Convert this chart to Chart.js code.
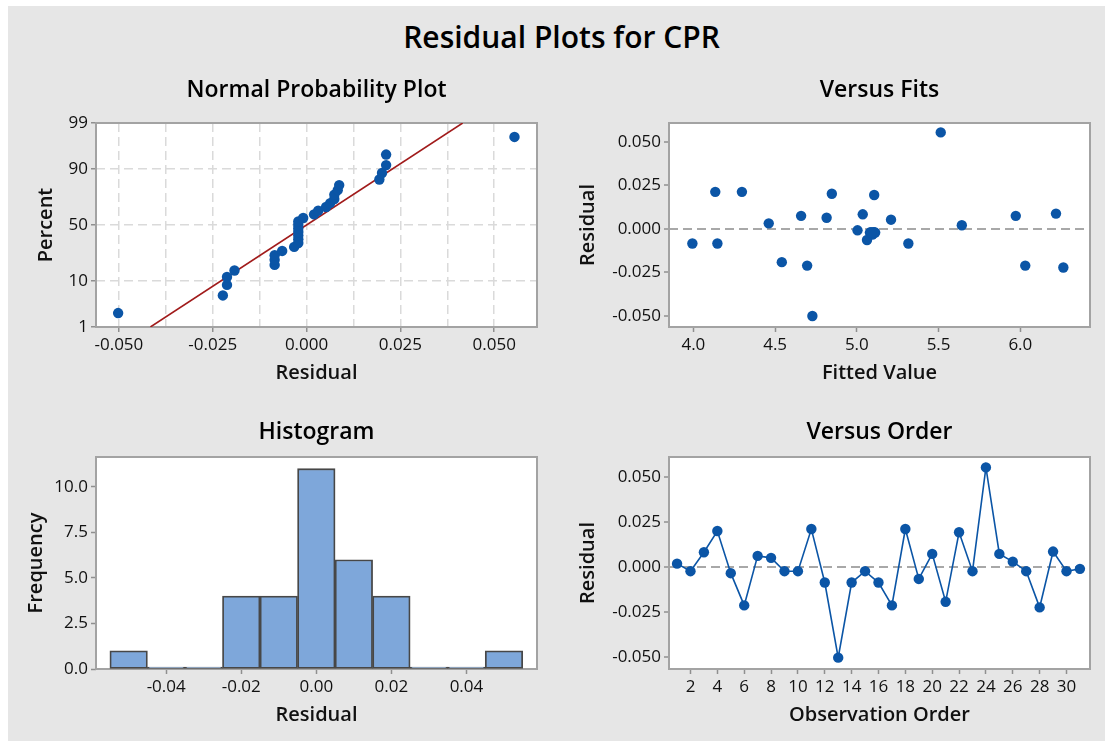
<!DOCTYPE html>
<html>
<head>
<meta charset="utf-8">
<title>Residual Plots for CPR</title>
<script src="https://cdn.jsdelivr.net/npm/chart.js"></script>
<style>
    html, body { margin: 0; padding: 0; background: #fff; overflow: hidden; }
    .sheet { position: absolute; left: 8px; top: 6px; width: 1097px; height: 735px; background: #e6e6e6; }
    .main-title { position: absolute; left: 8px; top: 17px; width: 1107px; text-align: center;
                  font: 600 30px "Open Sans"; line-height: 40px; color: #000; }
    canvas { position: absolute; }
</style>
</head>
<body>
<div class="sheet"></div>
<div class="main-title">Residual Plots for CPR</div>
<canvas id="normalPlot" width="560" height="362" style="left:0;top:37px"></canvas>
<canvas id="fitsPlot" width="545" height="362" style="left:560px;top:37px"></canvas>
<canvas id="histPlot" width="560" height="341" style="left:0;top:400px"></canvas>
<canvas id="orderPlot" width="545" height="341" style="left:560px;top:400px"></canvas>
<script>

// residuals in observation order
const observation = [1,2,3,4,5,6,7,8,9,10,11,12,13,14,15,16,17,18,19,20,21,22,23,24,25,26,27,28,29,30,31]
const residuals = [0.0020,-0.0022,0.0083,0.0201,-0.0033,-0.0212,0.0063,0.0052,-0.0022,-0.0022,
                   0.0212,-0.0085,-0.0502,-0.0085,-0.0022,-0.0085,-0.0212,0.0212,-0.0065,0.0074,
                   -0.0192,0.0194,-0.0022,0.0554,0.0074,0.0031,-0.0022,-0.0223,0.0087,-0.0022,-0.0009]
const fittedValues = [5.642,5.100,5.036,4.847,5.095,4.696,4.815,5.209,5.080,5.106,
                      4.134,3.994,4.728,4.147,5.112,5.315,6.030,4.297,5.062,4.659,
                      4.541,5.106,5.085,5.513,5.972,4.461,5.104,6.263,6.218,5.090,5.004]

// normal probability plot: percent of each sorted residual, and the fitted line
const normalPercent = [2.23,5.41,8.60,11.78,14.97,18.15,21.34,24.52,27.71,30.89,
                       34.08,37.26,40.45,43.63,46.82,50.00,53.18,56.37,59.55,62.74,
                       65.92,69.11,72.29,75.48,78.66,81.85,85.03,88.22,91.40,94.59,97.77]
const fitLineResidual = [-0.0416, 0.0416]
const fitLinePercent = [1, 99]

// histogram
const histBinCenters = [-0.05,-0.04,-0.03,-0.02,-0.01,0,0.01,0.02,0.03,0.04,0.05]
const histCounts = [1,0,0,4,4,11,6,4,0,0,1]

// tick labels
const percentTicks = [1,10,50,90,99]
const normalResidualTicks = [-0.05,-0.025,0,0.025,0.05]
const normalGridTicks = [-0.05,-0.0375,-0.025,-0.0125,0,0.0125,0.025,0.0375,0.05]
const residualTicks = [-0.05,-0.025,0,0.025,0.05]
const fittedTicks = [4.0,4.5,5.0,5.5,6.0]
const histResidualTicks = [-0.04,-0.02,0,0.02,0.04]
const frequencyTicks = [0,2.5,5,7.5,10]
const orderTicks = [2,4,6,8,10,12,14,16,18,20,22,24,26,28,30]

const FONT = 'Open Sans'
const BLUE = '#0b55a6'
const TICKGRAY = '#8f8f8f'

// inverse normal cdf (probability axis of the normal plot)
function probit(p){
    const a = [-39.69683028665376,220.9460984245205,-275.9285104469687,138.3577518672690,-30.66479806614716,2.506628277459239]
    const b = [-54.47609879822406,161.5858368580409,-155.6989798598866,66.80131188771972,-13.28068155288572]
    const c = [-0.007784894002430293,-0.3223964580411365,-2.400758277161838,-2.549732539343734,4.374664141464968,2.938163982698783]
    const d = [0.007784695709041462,0.3224671290700398,2.445134137142996,3.754408661907416]
    const pl = 0.02425
    let q, r
    if(p < pl){
        q = Math.sqrt(-2*Math.log(p))
        return (((((c[0]*q+c[1])*q+c[2])*q+c[3])*q+c[4])*q+c[5]) / ((((d[0]*q+d[1])*q+d[2])*q+d[3])*q+1)
    }
    if(p > 1-pl){
        q = Math.sqrt(-2*Math.log(1-p))
        return -(((((c[0]*q+c[1])*q+c[2])*q+c[3])*q+c[4])*q+c[5]) / ((((d[0]*q+d[1])*q+d[2])*q+d[3])*q+1)
    }
    q = p-0.5
    r = q*q
    return (((((a[0]*r+a[1])*r+a[2])*r+a[3])*r+a[4])*r+a[5])*q / (((((b[0]*r+b[1])*r+b[2])*r+b[3])*r+b[4])*r+1)
}

// white plot area, gray frame (under the marks) and the panel title
const panelFrame = {
    id: 'panelFrame',
    beforeDraw(chart){
        const {ctx, chartArea: a} = chart
        ctx.save()
        ctx.fillStyle = '#fff'
        ctx.fillRect(a.left, a.top, a.width, a.height)
        ctx.restore()
    },
    beforeDatasetsDraw(chart){
        const {ctx, chartArea: a} = chart
        ctx.save()
        ctx.strokeStyle = '#a3a3a3'
        ctx.lineWidth = 2
        ctx.strokeRect(a.left, a.top, a.width, a.height)
        ctx.restore()
    },
    afterDraw(chart, args, opts){
        const {ctx, chartArea: a} = chart
        ctx.save()
        ctx.fillStyle = '#000'
        ctx.font = '600 23px "' + FONT + '"'
        ctx.textAlign = 'center'
        ctx.textBaseline = 'middle'
        ctx.fillText(opts.text, (a.left + a.right) / 2, a.top - opts.gap)
        ctx.restore()
    }
}

function axis(o){
    return {
        type: 'linear',
        min: o.min,
        max: o.max,
        offset: false,
        afterBuildTicks: s => { s.ticks = o.ticks.map(v => ({value: v})) },
        afterFit: s => {
            if(o.width) s.width = o.width
            if(o.height) s.height = o.height
        },
        ticks: {
            font: {family: FONT, size: 17},
            color: '#111',
            padding: 3,
            maxRotation: 0,
            autoSkip: false,
            callback: o.format
        },
        grid: {
            offset: false,
            color: o.gridColor || 'transparent',
            lineWidth: o.gridWidth || 1,
            tickColor: o.tickColor || TICKGRAY,
            tickLength: 5,
            tickWidth: 1.5
        },
        border: {display: false, dash: o.dash || []},
        title: {
            display: true,
            text: o.title,
            font: {family: FONT, size: 20, weight: '600'},
            color: '#111',
            padding: o.titlePad
        }
    }
}

function baseOptions(title, gap, top, right, scales){
    return {
        responsive: false,
        animation: false,
        devicePixelRatio: 1,
        layout: {padding: {top: top, right: right, left: 0, bottom: 0}, autoPadding: false},
        plugins: {
            legend: {display: false},
            tooltip: {enabled: false},
            panelFrame: {text: title, gap: gap}
        },
        scales: scales
    }
}

const near = (a, b) => Math.abs(a - b) < 1e-9
const isMajor = v => normalResidualTicks.some(t => near(t, v))
const zeroLine = ctx => (ctx.tick && near(ctx.tick.value, 0)) ? '#a8a8a8' : 'transparent'
const POINT_R = 5.2

// ---------- Normal Probability Plot ----------
const sortedResiduals = residuals.slice().sort((a, b) => a - b)
new Chart(document.getElementById('normalPlot'), {
    type: 'scatter',
    data: {
        datasets: [
            {
                data: sortedResiduals.map((r, i) => ({x: r, y: probit(normalPercent[i] / 100)})),
                backgroundColor: BLUE, borderColor: BLUE, pointRadius: POINT_R, pointBorderWidth: 0
            },
            {
                data: fitLineResidual.map((r, i) => ({x: r, y: probit(fitLinePercent[i] / 100)})),
                showLine: true, borderColor: '#a11b1b', borderWidth: 1.6, pointRadius: 0
            }
        ]
    },
    plugins: [panelFrame],
    options: baseOptions('Normal Probability Plot', 33, 86, 23, {
        x: axis({
            min: -0.0561, max: 0.0614, ticks: normalGridTicks, height: 72,
            format: v => isMajor(v) ? v.toFixed(3) : '',
            gridColor: '#dadada', gridWidth: 1.5, dash: [9, 5],
            tickColor: c => isMajor(c.tick.value) ? TICKGRAY : 'transparent',
            title: 'Residual', titlePad: {top: 0, bottom: 14}
        }),
        y: axis({
            min: probit(0.01), max: probit(0.99), ticks: percentTicks.map(p => probit(p / 100)), width: 96,
            format: (v, i) => String(percentTicks[i]),
            gridColor: c => (c.index === 0 || c.index === percentTicks.length - 1) ? 'transparent' : '#dadada',
            gridWidth: 1.5, dash: [9, 5],
            title: 'Percent', titlePad: {top: 34, bottom: 0}
        })
    })
})

// ---------- Versus Fits ----------
new Chart(document.getElementById('fitsPlot'), {
    type: 'scatter',
    data: {
        datasets: [{
            data: fittedValues.map((f, i) => ({x: f, y: residuals[i]})),
            backgroundColor: BLUE, borderColor: BLUE, pointRadius: POINT_R, pointBorderWidth: 0
        }]
    },
    plugins: [panelFrame],
    options: baseOptions('Versus Fits', 33, 86, 15, {
        x: axis({
            min: 3.851, max: 6.426, ticks: fittedTicks, height: 72,
            format: v => v.toFixed(1),
            title: 'Fitted Value', titlePad: {top: 0, bottom: 14}
        }),
        y: axis({
            min: -0.0565, max: 0.0608, ticks: residualTicks, width: 109,
            format: v => v.toFixed(3),
            gridColor: zeroLine, gridWidth: 2, dash: [9, 5],
            title: 'Residual', titlePad: {top: 16, bottom: 0}
        })
    })
})

// ---------- Histogram ----------
new Chart(document.getElementById('histPlot'), {
    type: 'bar',
    data: {
        datasets: [{
            data: histBinCenters.map((c, i) => ({x: c, y: histCounts[i]})),
            backgroundColor: '#7ea7da', borderColor: '#474747', borderWidth: 1.8,
            borderSkipped: false, barPercentage: 1, categoryPercentage: 1, minBarLength: 2
        }]
    },
    plugins: [panelFrame],
    options: baseOptions('Histogram', 25, 57, 23, {
        x: axis({
            min: -0.0587, max: 0.0588, ticks: histResidualTicks, height: 72,
            format: v => v.toFixed(2),
            title: 'Residual', titlePad: {top: 0, bottom: 14}
        }),
        y: axis({
            min: 0, max: 11.64, ticks: frequencyTicks, width: 96,
            format: v => v.toFixed(1),
            title: 'Frequency', titlePad: {top: 24, bottom: 0}
        })
    })
})

// ---------- Versus Order ----------
new Chart(document.getElementById('orderPlot'), {
    type: 'line',
    data: {
        datasets: [{
            data: observation.map((n, i) => ({x: n, y: residuals[i]})),
            borderColor: BLUE, backgroundColor: BLUE, borderWidth: 1.6,
            pointRadius: POINT_R, pointBorderWidth: 0, tension: 0
        }]
    },
    plugins: [panelFrame],
    options: baseOptions('Versus Order', 25, 57, 15, {
        x: axis({
            min: 0.4, max: 31.75, ticks: orderTicks, height: 72,
            format: v => String(v),
            title: 'Observation Order', titlePad: {top: 0, bottom: 14}
        }),
        y: axis({
            min: -0.0565, max: 0.0612, ticks: residualTicks, width: 109,
            format: v => v.toFixed(3),
            gridColor: zeroLine, gridWidth: 2, dash: [9, 5],
            title: 'Residual', titlePad: {top: 16, bottom: 0}
        })
    })
})

</script>
</body>
</html>
